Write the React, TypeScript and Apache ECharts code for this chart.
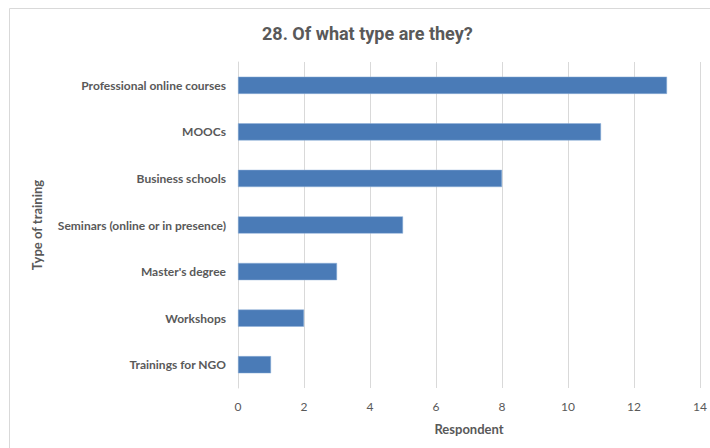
import React, { useEffect, useRef } from "react";
import * as echarts from "echarts";

const titleText = "28. Of what type are they?";
const categories = [
  "Trainings for NGO",
  "Workshops",
  "Master's degree",
  "Seminars (online or in presence)",
  "Business schools",
  "MOOCs",
  "Professional online courses",
];
const values = [1, 2, 3, 5, 8, 11, 13];
const xAxisName = "Respondent";
const yAxisName = "Type of training";

export default function App() {
  const ref = useRef<HTMLDivElement>(null);
  useEffect(() => {
    document.body.style.margin = "0";
    if (!ref.current) return;
    const chart = echarts.init(ref.current, null, { renderer: "svg" });
    chart.setOption({
      animation: false,
      backgroundColor: "#ffffff",
      graphic: [
        {
          type: "rect",
          shape: { x: 9.5, y: 8.5, width: 720, height: 460 },
          style: { fill: "none", stroke: "#d9d9d9", lineWidth: 1 },
          silent: true,
        },
      ],
      title: {
        text: titleText,
        left: 257,
        top: 19,
        textStyle: {
          fontFamily: "Roboto",
          fontWeight: "bold",
          fontSize: 18,
          color: "#595959",
        },
      },
      grid: { left: 238, right: 10, top: 62, bottom: 60 },
      xAxis: {
        type: "value",
        min: 0,
        max: 14,
        interval: 2,
        name: xAxisName,
        nameLocation: "middle",
        nameGap: 34,
        nameTextStyle: {
          fontFamily: "Lato",
          fontWeight: "bold",
          fontSize: 13,
          color: "#595959",
        },
        axisLine: { show: false },
        axisTick: { show: false },
        axisLabel: {
          fontFamily: "Lato",
          fontSize: 12,
          color: "#595959",
          margin: 12,
        },
        splitLine: { lineStyle: { color: "#d9d9d9", width: 1 } },
      },
      yAxis: {
        type: "category",
        data: categories,
        name: yAxisName,
        nameLocation: "middle",
        nameGap: 195,
        nameRotate: 90,
        nameTextStyle: {
          fontFamily: "Lato",
          fontWeight: "bold",
          fontSize: 13,
          color: "#595959",
        },
        axisLine: { show: true, lineStyle: { color: "#d9d9d9" } },
        axisTick: { show: false },
        axisLabel: {
          fontFamily: "Lato",
          fontWeight: "bold",
          fontSize: 12,
          color: "#595959",
          margin: 12,
        },
      },
      series: [
        {
          type: "bar",
          data: values,
          barCategoryGap: "63%",
          itemStyle: {
            color: "#4a7bb7",
            borderColor: "#8fb0d8",
            borderWidth: 0.5,
          },
        },
      ],
    });
    return () => chart.dispose();
  }, []);
  return <div ref={ref} style={{ width: 710, height: 448 }} />;
}
